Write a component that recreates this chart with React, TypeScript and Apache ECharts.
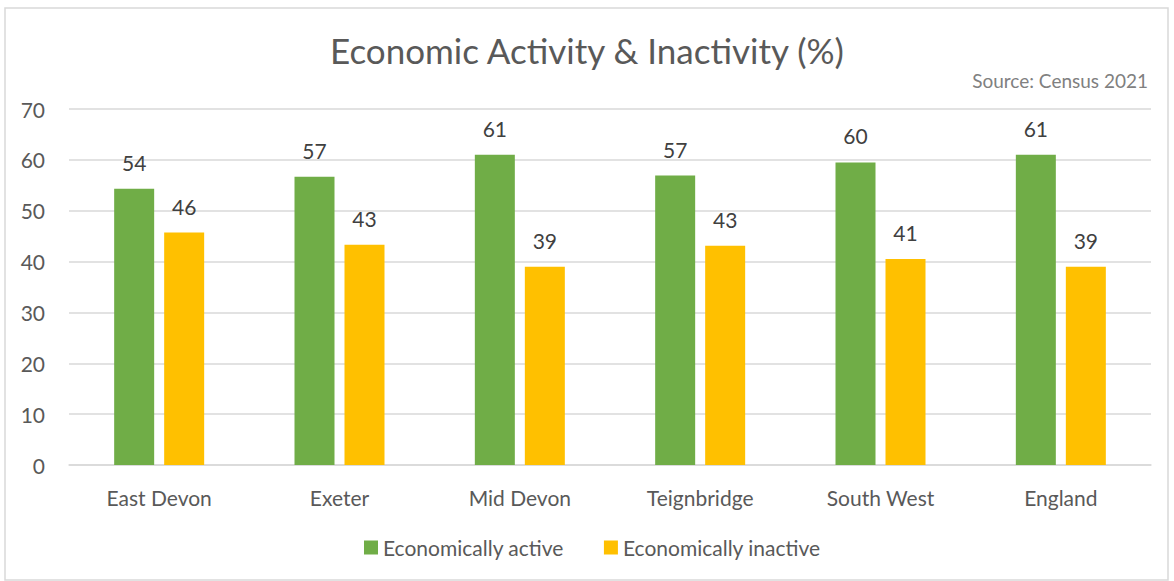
import React, { useEffect, useRef } from "react";
import * as echarts from "echarts";

const categories = ["East Devon", "Exeter", "Mid Devon", "Teignbridge", "South West", "England"];
const activeValues = [54.3, 56.7, 61.0, 56.9, 59.5, 61.0];
const inactiveValues = [45.7, 43.3, 39.0, 43.1, 40.5, 39.0];
const yTicks = { min: 0, max: 70, interval: 10 };

const FONT = "Lato";

export default function App() {
  const ref = useRef<HTMLDivElement>(null);
  useEffect(() => {
    const chart = echarts.init(ref.current!, null, { renderer: "svg" });
    const labelCommon = {
      show: true,
      position: "top",
      distance: 16,
      color: "#404040",
      fontFamily: FONT,
      fontSize: 21,
      formatter: (p: any) => String(Math.round(p.value)),
    };
    chart.setOption({
      animation: false,
      backgroundColor: "#ffffff",
      title: [
        {
          text: "Economic Activity & Inactivity (%)",
          left: "center",
          top: 27,
          textStyle: { fontFamily: FONT, fontSize: 35, fontWeight: "normal", color: "#595959" },
        },
        {
          text: "Source: Census 2021",
          right: 21,
          top: 66,
          textStyle: { fontFamily: FONT, fontSize: 19, fontWeight: "normal", color: "#808080" },
        },
      ],
      legend: {
        top: 532,
        left: 359,
        itemWidth: 14,
        itemHeight: 14,
        itemGap: 40,
        icon: "rect",
        textStyle: { fontFamily: FONT, fontSize: 21, color: "#595959" },
        data: ["Economically active", "Economically inactive"],
      },
      grid: { left: 69, right: 23, top: 109, bottom: 116, containLabel: false },
      xAxis: {
        type: "category",
        data: categories,
        axisLine: { lineStyle: { color: "#d9d9d9", width: 1.5 } },
        axisTick: { show: false },
        axisLabel: { fontFamily: FONT, fontSize: 21, color: "#595959", margin: 22 },
      },
      yAxis: {
        type: "value",
        min: yTicks.min,
        max: yTicks.max,
        interval: yTicks.interval,
        axisLine: { show: false },
        axisTick: { show: false },
        splitLine: { lineStyle: { color: "#d9d9d9", width: 1.5 } },
        axisLabel: { fontFamily: FONT, fontSize: 21, color: "#595959", margin: 24 },
      },
      series: [
        {
          name: "Economically active",
          type: "bar",
          data: activeValues,
          barWidth: 40,
          barGap: "25%",
          itemStyle: { color: "#70ad47" },
          label: labelCommon,
        },
        {
          name: "Economically inactive",
          type: "bar",
          data: inactiveValues,
          barWidth: 40,
          itemStyle: { color: "#ffc000" },
          label: labelCommon,
        },
      ],
      graphic: [
        {
          type: "rect",
          shape: { x: 5, y: 8, width: 1163, height: 572 },
          style: { fill: "none", stroke: "#d9d9d9", lineWidth: 1.5 },
          silent: true,
        },
      ],
    });
    return () => chart.dispose();
  }, []);
  return (
    <div
      ref={ref}
      style={{ position: "absolute", left: 0, top: 0, width: 1174, height: 581, background: "#fff" }}
    />
  );
}
